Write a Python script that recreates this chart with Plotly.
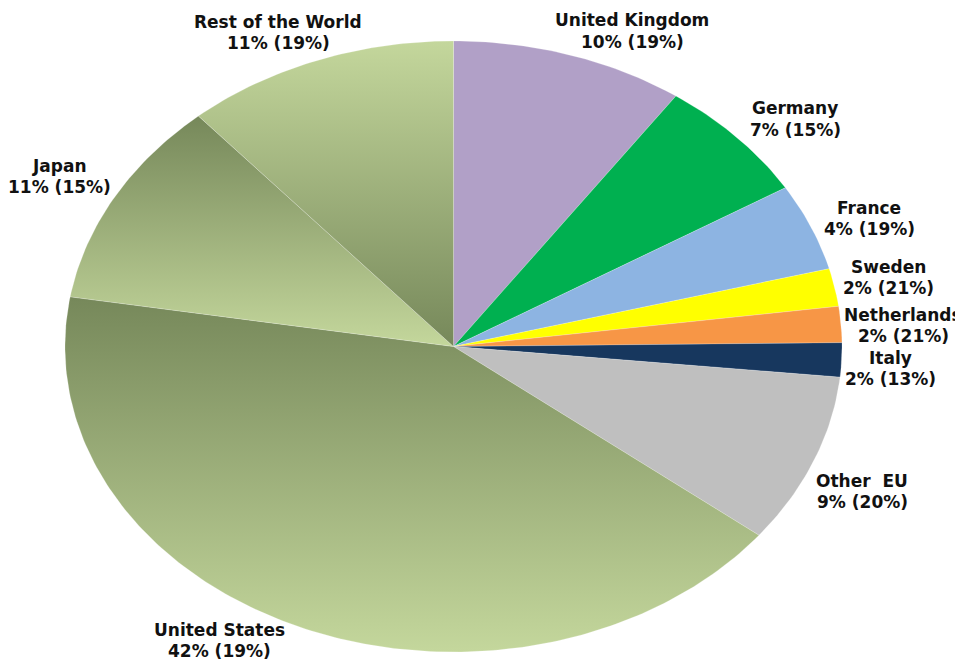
import numpy as np
import plotly.graph_objects as go

# slices, clockwise from 12 o'clock
countries = ["United Kingdom", "Germany", "France", "Sweden", "Netherlands",
             "Italy", "Other  EU", "United States", "Japan", "Rest of the World"]
shares = [9.7, 6.6, 4.6, 2.0, 1.9, 1.8, 9.0, 42.0, 11.0, 11.4]
share_labels = ["10%", "7%", "4%", "2%", "2%", "2%", "9%", "42%", "11%", "11%"]
bracket_labels = ["19%", "15%", "19%", "21%", "21%", "13%", "20%", "19%", "15%", "19%"]

DARK = "#76885A"
LIGHT = "#C4D79C"
colors = ["#B1A0C7", "#00B050", "#8DB4E2", "#FFFF00", "#F79646",
          "#17375E", "#BFBFBF", None, None, None]
gradients = {
    "United States": [[0, LIGHT], [1, DARK]],
    "Japan": [[0, LIGHT], [1, DARK]],
    "Rest of the World": [[0, DARK], [1, LIGHT]],
}

# label centres in page pixels (x, y from top), two lines each
label_pos = {
    "United Kingdom": (632, 31),
    "Germany": (795, 119),
    "France": (869, 219),
    "Sweden": (888, 277),
    "Netherlands": (903, 325),
    "Italy": (890, 368),
    "Other  EU": (862, 491),
    "United States": (219, 640),
    "Japan": (59, 176),
    "Rest of the World": (278, 33),
}

W, H = 963, 662
OFF = 8                 # page body margin around the figure
CX, CY = 453.5 - OFF, 346.5 - OFF   # pie centre (px)
RX, RY = 388.5, 305.5   # ellipse radii (px)
LINE_GAP = 21

fig = go.Figure()

total = sum(shares)
start = 0.0
for name, val, col in zip(countries, shares, colors):
    a0 = start / total * 2 * np.pi
    a1 = (start + val) / total * 2 * np.pi
    t = np.linspace(a0, a1, max(int(val * 4), 8))
    xs = np.concatenate([[0], np.sin(t), [0]])
    ys = np.concatenate([[0], np.cos(t), [0]])
    trace = dict(x=xs, y=ys, mode="lines", fill="toself",
                 line=dict(width=0.5, color="rgba(255,255,255,0.4)"),
                 hoverinfo="text", text=name, showlegend=False)
    if name in gradients:
        trace["fillgradient"] = dict(type="vertical", colorscale=gradients[name])
    else:
        trace["fillcolor"] = col
    fig.add_trace(go.Scatter(**trace))
    start += val

font = dict(family="DejaVu Sans", size=17, color="#111111")
for name, s, b in zip(countries, share_labels, bracket_labels):
    px, py = label_pos[name]
    px, py = px - OFF, py - OFF
    for txt, yy in [(name, py - LINE_GAP / 2), (f"{s} ({b})", py + LINE_GAP / 2)]:
        fig.add_annotation(
            x=px / W, y=1 - yy / H, xref="paper", yref="paper",
            text=f"<b>{txt}</b>", showarrow=False, borderpad=0,
            xanchor="center", yanchor="middle", align="center", font=font,
        )

fig.update_layout(
    width=W, height=H,
    margin=dict(l=0, r=0, t=0, b=0),
    paper_bgcolor="white", plot_bgcolor="white",
    xaxis=dict(range=[-CX / RX, (W - CX) / RX], visible=False, fixedrange=True),
    yaxis=dict(range=[-(H - CY) / RY, CY / RY], visible=False, fixedrange=True),
)

fig.write_html("out.html")
